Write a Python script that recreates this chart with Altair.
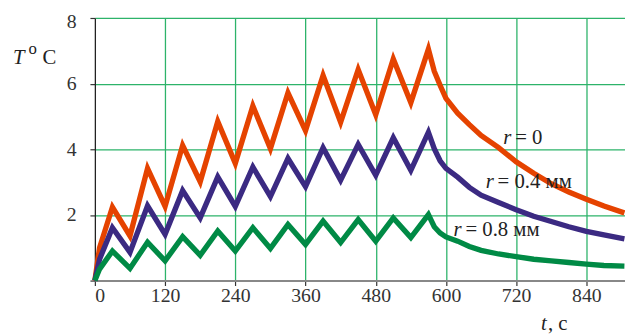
import altair as alt
import pandas as pd

# ---- data ----
time_s = [0, 8, 30, 60, 90, 120, 150, 180, 210, 240, 270, 300, 330, 360, 390, 420,
          450, 480, 510, 540, 570,
          580, 590, 600, 620, 640, 660, 690, 720, 750, 780, 810, 840, 870, 905]
temp_r0 = [0, 1.0, 2.24, 1.36, 3.42, 2.26, 4.12, 3.01, 4.85, 3.57, 5.32, 4.02, 5.72, 4.57,
           6.25, 4.82, 6.43, 5.05, 6.75, 5.42, 7.05,
           6.38, 5.95, 5.55, 5.1, 4.75, 4.42, 4.05, 3.62, 3.27, 2.95, 2.7, 2.48, 2.27, 2.06]
temp_r04 = [0, 0.65, 1.61, 0.86, 2.28, 1.41, 2.74, 1.91, 3.16, 2.26, 3.46, 2.56, 3.72, 2.86,
            4.05, 3.06, 4.15, 3.21, 4.35, 3.36, 4.52,
            4.02, 3.65, 3.42, 3.15, 2.84, 2.6, 2.38, 2.16, 1.96, 1.8, 1.64, 1.5, 1.39, 1.27]
temp_r08 = [0, 0.35, 0.9, 0.37, 1.17, 0.6, 1.34, 0.77, 1.51, 0.9, 1.61, 0.98, 1.71, 1.1,
            1.81, 1.16, 1.86, 1.2, 1.91, 1.31, 2.01,
            1.64, 1.45, 1.33, 1.2, 1.04, 0.92, 0.81, 0.73, 0.65, 0.6, 0.55, 0.5, 0.46, 0.44]

series_names = ["r = 0", "r = 0.4 мм", "r = 0.8 мм"]
series_colors = ["#e54300", "#3b2a82", "#008a45"]

x_ticks = list(range(0, 841, 60))
y_ticks = [0, 2, 4, 6, 8]

label_rest = ["= 0", "= 0.4 мм", "= 0.8 мм"]
label_t = [698, 668, 613]
label_T = [4.17, 2.81, 1.36]

# ---- tables ----
rows = []
for name, vals in zip(series_names, [temp_r0, temp_r04, temp_r08]):
    for i, (t, v) in enumerate(zip(time_s, vals)):
        rows.append({"series": name, "t": t, "T": v, "i": i})
df = pd.DataFrame(rows)
lab = pd.DataFrame({"t": label_t, "T": label_T, "rest": label_rest})
one = pd.DataFrame({"a": [0]})

FONT = "Liberation Serif, DejaVu Serif, Noto Serif, Times New Roman, serif"
GRID = "#2db36a"

xscale = alt.Scale(domain=[0, 906], nice=False, zero=False)
yscale = alt.Scale(domain=[0, 8], nice=False)

xaxis = alt.Axis(
    values=x_ticks, title=None,
    labelExpr="datum.value % 120 == 0 ? datum.label : ''",
    labelFont=FONT, labelFontSize=20, labelColor="#333", labelPadding=0,
    labelAlign={"condition": {"test": "datum.value == 0", "value": "left"}, "value": "center"},
    tickColor="#333", tickSize=5, tickWidth=1.2,
    domainColor="#888", domainWidth=2,
    grid=True, gridColor=GRID, gridWidth=1.3,
    gridOpacity={"condition": {"test": "datum.value % 120 == 0 && datum.value > 0", "value": 1}, "value": 0},
)
yaxis = alt.Axis(
    values=y_ticks, title=None,
    labelExpr="datum.value == 0 ? '' : datum.label",
    labelFont=FONT, labelFontSize=20, labelColor="#333", labelPadding=14,
    labelOffset={"condition": {"test": "datum.value == 8", "value": 4}, "value": 0},
    tickColor="#333", tickSize=5, tickWidth=1.2,
    domainColor="#222", domainWidth=1.3,
    grid=True, gridColor=GRID, gridWidth=1.3,
    gridOpacity={"condition": {"test": "datum.value > 0", "value": 1}, "value": 0},
)

lines = alt.Chart(df).mark_line(strokeWidth=5.4, strokeJoin="miter").encode(
    x=alt.X("t:Q", scale=xscale, axis=xaxis),
    y=alt.Y("T:Q", scale=yscale, axis=yaxis),
    color=alt.Color("series:N", scale=alt.Scale(domain=series_names, range=series_colors), legend=None),
    order="i:Q",
)

lab_r = alt.Chart(lab).mark_text(font=FONT, fontSize=21, fontStyle="italic", align="left",
                                 baseline="alphabetic", color="#222").encode(
    x=alt.X("t:Q", scale=xscale), y=alt.Y("T:Q", scale=yscale), text=alt.value("r"))
lab_rest = alt.Chart(lab).mark_text(font=FONT, fontSize=21, align="left", dx=12,
                                    baseline="alphabetic", color="#222").encode(
    x=alt.X("t:Q", scale=xscale), y=alt.Y("T:Q", scale=yscale), text="rest:N")

base_txt = alt.Chart(one)
t_T = base_txt.mark_text(font=FONT, fontSize=21, fontStyle="italic", baseline="alphabetic",
                         align="center", color="#222").encode(
    x=alt.value(-77), y=alt.value(47), text=alt.value("T"))
t_o = base_txt.mark_text(font=FONT, fontSize=17, baseline="alphabetic", align="center",
                         color="#222").encode(
    x=alt.value(-63), y=alt.value(36), text=alt.value("o"))
t_C = base_txt.mark_text(font=FONT, fontSize=21, baseline="alphabetic", align="center",
                         color="#222").encode(
    x=alt.value(-46), y=alt.value(47), text=alt.value("C"))
x_t = base_txt.mark_text(font=FONT, fontSize=21, fontStyle="italic", baseline="alphabetic",
                         align="left", color="#222").encode(
    x=alt.value(452), y=alt.value(316), text=alt.value("t"))
x_c = base_txt.mark_text(font=FONT, fontSize=21, baseline="alphabetic",
                         align="left", color="#222").encode(
    x=alt.value(459), y=alt.value(316), text=alt.value(", c"))

chart = alt.layer(lines, lab_r, lab_rest, t_T, t_o, t_C, x_t, x_c).properties(
    width=537, height=266,
    autosize=alt.AutoSizeParams(type="none"),
    padding={"left": 88, "top": 8, "right": 0, "bottom": 52},
    background="white",
).configure_view(stroke=None)

chart.save("out.html", embed_options={"renderer": "svg", "actions": False})
